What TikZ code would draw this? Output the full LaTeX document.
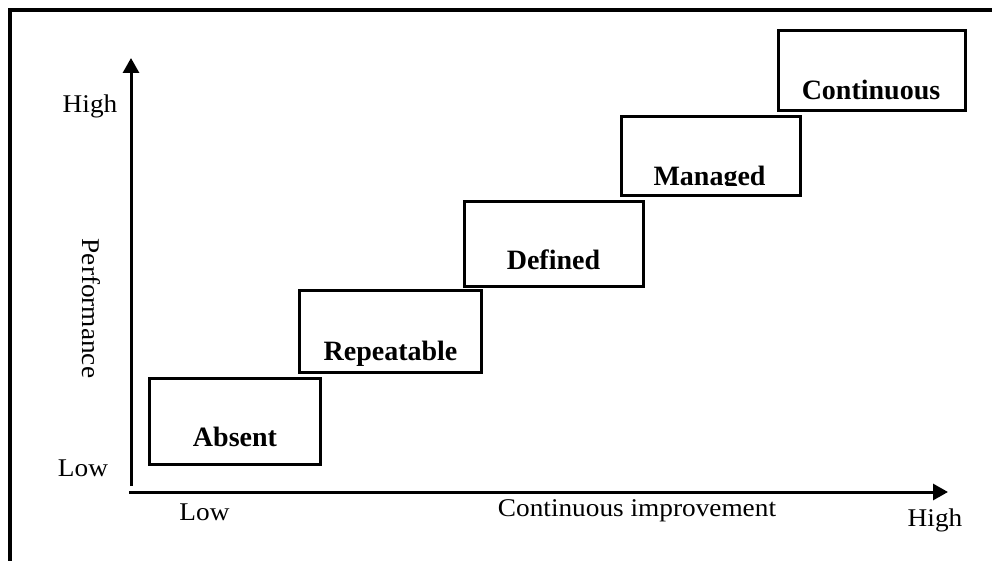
\documentclass[tikz,border=0pt]{standalone}
\usepackage{fontspec}
\setmainfont{Liberation Serif}
\newfontfamily\axisfont[FakeStretch=1.07]{Liberation Serif}
\usetikzlibrary{arrows.meta}

\tikzset{
  stage/.style={draw=black, line width=3.8pt, rectangle, inner sep=0pt, fill=white},
  stagetext/.style={anchor=base, inner sep=0pt, font=\fontsize{28}{30}\selectfont\bfseries},
  axistext/.style={anchor=base, inner sep=0pt, font=\axisfont\fontsize{25.5}{28}\selectfont},
  axisline/.style={line width=3pt, -{Triangle[length=15pt,width=16pt]}},
  frameline/.style={line width=4pt}
}

\begin{document}
\begin{tikzpicture}[x=1pt, y=-1pt]
  \useasboundingbox (0,0) rectangle (992,561);

  % outer frame (top and left edges)
  \draw[frameline] (9.5,561) -- (9.5,10.5) -- (992,10.5);

  % axes
  \coordinate (ybot) at (131,486);
  \coordinate (ytop) at (131,58);
  \coordinate (xleft) at (129,492);
  \coordinate (xright) at (948,492);
  \draw[axisline] (ybot) -- (ytop);
  \draw[axisline] (xleft) -- (xright);

  % maturity steps
  \node[stage, minimum width=171pt, minimum height=86pt] (absent)     at (235,421.5) {};
  \node[stage, minimum width=182pt, minimum height=82pt] (repeatable) at (390.5,331.5) {};
  \node[stage, minimum width=179pt, minimum height=85pt] (defined)    at (554,244) {};
  \node[stage, minimum width=179pt, minimum height=79pt] (managed)    at (711,156) {};
  \node[stage, minimum width=187pt, minimum height=80pt] (continuous) at (872,70.5) {};

  \node[stagetext] (absentlbl)     at (235,446) {Absent};
  \node[stagetext] (repeatablelbl) at (390.5,360) {Repeatable};
  \node[stagetext] (definedlbl)    at (553.5,269) {Defined};
  \begin{scope}
    \clip (630,120) rectangle (795,186);
    \node[stagetext] (managedlbl)  at (709.5,185.5) {Managed};
  \end{scope}
  \node[stagetext] (continuouslbl) at (871,100) {Continuous};

  % axis labels
  \node[axistext] (yhigh) at (90,113) {High};
  \node[axistext] (ylow)  at (83,476) {Low};
  \node[axistext] (xlow)  at (204.5,520) {Low};
  \node[axistext] (xtitle) at (637,516) {Continuous improvement};
  \node[axistext] (xhigh) at (935,526) {High};
  \node[axistext, rotate=-90] (ytitle) at (82,308.5) {Performance};
\end{tikzpicture}
\end{document}
